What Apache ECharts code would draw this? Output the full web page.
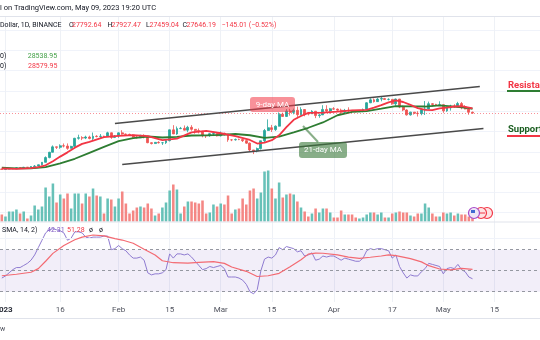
<!DOCTYPE html>
<html><head><meta charset="utf-8"><title>BTC chart</title>
<script src="https://cdn.jsdelivr.net/npm/echarts@6/dist/echarts.min.js"></script>
<style>html,body{margin:0;padding:0;background:#ffffff;overflow:hidden}#chart{width:540px;height:340px}</style>
</head><body><div id="chart"></div>
<script>
// ---------- DATA ----------
const startDay = Date.UTC(2022, 11, 31);
const dayCount = 148;
const categories = [];
for (let i = 0; i < dayCount; i++) categories.push(new Date(startDay + i * 86400000).toISOString().slice(0, 10));

const tickIdx  = [1, 16, 32, 46, 60, 74, 91, 107, 121, 135];
const tickText = ['2023', '16', 'Feb', '15', 'Mar', '15', 'Apr', '17', 'May', '15'];

const opens = [16607,16542,16616,16672,16675,16850,16831,16951,16945,17091,
17196,17446,17934,18869,19909,20977,20881,21185,21134,20677,
21071,22667,22783,22707,22917,22633,23060,23009,23074,23027,
23743,22827,23125,23732,23488,23431,23326,22932,22762,23240,
22963,21796,21625,21862,21783,21790,22199,24324,23517,24569,
24631,24271,24827,24436,24188,23947,23198,23175,23561,23600,
23147,23646,23475,22362,22354,22435,22409,22197,21705,20363,
20187,20633,22163,24197,24746,24375,25052,27423,26965,28038,
27767,28175,27307,28333,27493,27480,27994,27139,27268,28348,
28033,28478,28411,28199,27790,28168,28160,28033,27906,27948,
28333,29653,30235,29884,30390,30485,30319,30325,29445,30398,
28823,28245,27276,27817,27591,27525,28307,28422,29473,29340,
29248,29268,28068,28669,29026,28838,29506,28848,28430,27792.64];
const closes = [16542,16616,16672,16675,16850,16831,16951,16945,17091,17196,
17446,17934,18869,19909,20977,20881,21185,21134,20677,21071,
22667,22783,22707,22917,22633,23060,23009,23074,23027,23743,
22827,23125,23732,23488,23431,23326,22932,22762,23240,22963,
21796,21625,21862,21783,21790,22199,24324,23517,24569,24631,
24271,24827,24436,24188,23947,23198,23175,23561,23600,23147,
23646,23475,22362,22354,22435,22409,22197,21705,20363,20187,
20633,22163,24197,24746,24375,25052,27423,26965,28038,27767,
28175,27307,28333,27493,27480,27994,27139,27268,28348,28033,
28478,28411,28199,27790,28168,28160,28033,27906,27948,28333,
29653,30235,29884,30390,30485,30319,30325,29445,30398,28823,
28245,27276,27817,27591,27525,28307,28422,29473,29340,29248,
29268,28068,28669,29026,28838,29506,28848,28430,27792.64,27646.19];
const lows = [16470,16499,16548,16600,16650,16750,16670,16900,16910,17080,
17150,17320,17900,18720,19880,20550,20600,20860,20400,20660,
20880,22400,22300,22500,22460,22320,22850,22530,22880,22980,
22550,22710,22760,23360,23200,23260,22750,22630,22740,22650,
21690,21450,21600,21630,21350,21530,22050,23500,23340,24470,
24220,23840,24150,23570,23620,22860,22720,22950,23100,23020,
23030,23200,21970,22100,22200,22300,21930,21580,20050,19550,
19900,20450,21920,24130,23900,24120,25000,26900,26860,27130,
27380,26600,27150,27000,27170,27450,26630,26700,27250,27700,
27550,28250,27870,27250,27670,27820,27720,27780,27850,27800,
28170,29600,29700,29850,29950,30230,30120,29270,29100,28600,
28000,27130,27130,27340,26950,27200,27250,28380,28900,29050,
29150,27680,27870,28110,28680,28800,28380,28370,27300,27459.04];
const highs = [16644,16630,16760,16775,17000,16880,17040,16990,17180,17400,
17490,17990,19100,19990,21260,21030,21470,21640,21650,21190,
22750,23370,23080,23170,23180,23800,23280,23500,23160,23950,
23800,23310,23810,24250,23590,23580,23440,23160,23350,23450,
23010,21900,21900,22090,21890,22320,24380,25250,24990,24900,
25190,25120,25250,24470,24600,24140,23220,23690,23880,23600,
24000,23780,23480,22410,22610,22600,22550,22270,21830,20370,
20840,22190,24500,26390,25300,25200,27760,27720,28430,28480,
28520,28900,28780,28400,27800,28200,28040,27500,29180,29170,
28650,28800,28530,28500,28450,28770,28200,28100,28170,28530,
29770,30550,30500,30620,31000,30620,30550,30320,30480,30410,
29100,28370,27880,27820,28000,28400,30000,29890,29600,29450,
29950,29330,28880,29270,29380,29840,29820,29180,28450,27927.47];
const volumes = [70000,50000,100000,100000,120000,80000,100000,30000,60000,160000,
120000,150000,340000,250000,380000,190000,270000,230000,280000,130000,
280000,280000,180000,280000,250000,330000,260000,250000,80000,230000,
220000,150000,230000,300000,180000,80000,110000,140000,150000,140000,
180000,130000,60000,80000,140000,190000,310000,370000,320000,80000,
150000,200000,200000,190000,180000,210000,80000,90000,170000,150000,
180000,170000,260000,80000,120000,130000,230000,170000,310000,330000,
230000,290000,500000,510000,330000,230000,390000,240000,270000,280000,
270000,200000,140000,100000,50000,80000,130000,90000,130000,130000,
90000,40000,40000,110000,70000,70000,70000,40000,30000,40000,
70000,90000,90000,70000,90000,40000,40000,80000,90000,100000,
90000,90000,60000,50000,80000,80000,180000,140000,80000,50000,
50000,90000,80000,90000,60000,80000,70000,70000,50000,40000];

const ma9Days = [0,4,8,10,12,14,16,18,20,22,24,28,32,36,40,44,48,52,56,60,64,68,70,72,74,76,78,80,82,84,88,92,96,100,102,104,106,108,110,112,114,116,118,120,122,124,126,128,129];
const ma9Vals = [16711,16649,16797,16962,17346,18146,19054,19890,20819,21565,21975,22875,23137,23292,23074,22304,22605,23839,24138,23655,23084,22327,21627,21810,22285,23238,24844,26304,27048,27666,27728,27929,28182,28245,28704,29207,29729,30125,29812,29236,28604,28267,28222,28555,28702,28928,28979,28716,28536];
const ma21Days = [0,4,8,12,16,20,24,28,32,36,40,44,48,52,56,60,64,68,72,76,80,84,88,92,96,100,104,108,112,116,120,124,128,129];
const ma21Vals = [16893,16747,16762,16975,17717,18625,19793,20964,22096,22693,23012,22820,22955,23214,23239,23337,23506,23262,22732,23010,23841,24736,25784,27202,27859,28032,28494,28998,28945,28921,29165,28900,28615,28484];

const upperDays = [31, 131];
const upperVals = [25580, 32855];
const lowerDays = [33, 132];
const lowerVals = [17505, 24603];

const rsiVals = [43,45,48,51,53,53,55,57,60,65,
72,79,86,89,90,89,88,86,79,81,
87,87,86,82,81,82,82,82,83,83,
70,71,74,71,69,65,62,62,63,60,
48,46,47,47,48,51,66,62,66,66,
65,66,63,59,55,51,52,54,53,54,
55,52,44,44,44,43,41,37,30,28,
32,50,61,63,62,65,72,70,73,72,
71,68,69,64,65,67,60,61,64,63,
64,64,62,60,62,61,60,59,59,62,
69,71,70,71,71,70,69,62,65,54,
48,43,46,45,45,49,52,57,56,55,
54,47,52,53,52,56,51,49,44,42.31];
const rsiSmaDays = [0,4,8,10,12,14,17,20,22,25,28,31,33,36,39,42,44,47,51,54,58,61,63,67,70,73,76,79,82,84,86,88,92,95,98,101,104,106,108,112,115,117,120,123,126,129];
const rsiSmaVals = [45.2,46.6,48.5,52,59,66.5,74,79.5,82,84,83.2,80.6,79.2,76.1,70.5,65,59.5,57.6,57.3,58,58.6,57,53.5,49.4,44.5,45.2,47.5,53.8,60.5,65.8,66.8,66.6,65,63,61.8,62.8,64,65,64.3,61.5,58.4,54.8,51.6,50.7,52.3,51.28];

// ---------- HELPERS ----------
function sparse(days, vals) {
  const a = new Array(dayCount).fill(null);
  days.forEach((d, k) => { a[d] = vals[k]; });
  return a;
}
const UP = '#26a69a', DOWN = '#ef5350';
const VOL_UP = '#67c1b8', VOL_DOWN = '#f48784';
const FONT = 'Roboto';

const candleData = opens.map((o, i) => [o, closes[i], lows[i], highs[i]]);

function txt(x, y, text, fill, size, weight, align) {
  return { type: 'text', x: x, y: y, z: 100,
    style: { text: text, fill: fill, font: (weight || 'normal') + ' ' + size + 'px ' + FONT,
             verticalAlign: 'middle', align: align || 'left' } };
}
function hline(x1, x2, y, stroke, w) {
  return { type: 'line', z: 100, shape: { x1: x1, y1: y, x2: x2, y2: y }, style: { stroke: stroke, lineWidth: w } };
}

const chart = echarts.init(document.getElementById('chart'), null, { renderer: 'canvas' });

const option = {
  animation: false,
  backgroundColor: '#ffffff',
  grid: [
    { left: 0, right: 0, top: 16, height: 196.72, outerBoundsMode: 'none', containLabel: false },
    { left: 0, right: 0, top: 161.5, height: 60, outerBoundsMode: 'none', containLabel: false },
    { left: 0, right: 0, top: 218.2, height: 105, outerBoundsMode: 'none', containLabel: false },
    { left: 0, right: 0, top: 16, height: 286, outerBoundsMode: 'none', containLabel: false }
  ],
  xAxis: [
    { type: 'category', gridIndex: 0, data: categories, boundaryGap: true, show: false },
    { type: 'category', gridIndex: 1, data: categories, boundaryGap: true, show: false },
    { type: 'category', gridIndex: 2, data: categories, boundaryGap: true, show: false },
    { type: 'category', gridIndex: 3, data: categories, boundaryGap: true,
      axisLine: { show: false },
      axisTick: { show: false, alignWithLabel: true },
      splitLine: { show: true, alignWithLabel: true, interval: (i) => tickIdx.includes(i),
                   lineStyle: { color: '#eef1f6', width: 1 } },
      axisLabel: { show: true, margin: 4, color: '#50535e', fontSize: 8, fontFamily: FONT,
        interval: (i) => tickIdx.includes(i),
        formatter: (v, i) => {
          const k = tickIdx.indexOf(i);
          if (k < 0) return '';
          return k === 0 ? '{y|' + tickText[k] + '}' : tickText[k];
        },
        rich: { y: { fontWeight: 'bold', fontSize: 8, color: '#2a2e39', fontFamily: FONT, padding: [0, 4, 0, 0] } } } }
  ],
  yAxis: [
    { type: 'value', gridIndex: 0, min: 8000, max: 46754.4, interval: 4000, position: 'right',
      axisLine: { show: false }, axisTick: { show: false }, axisLabel: { show: false },
      splitLine: { show: true, lineStyle: { color: '#f0f3fa', width: 1 } } },
    { type: 'value', gridIndex: 1, min: 0, max: 600000, show: false, splitLine: { show: false } },
    { type: 'value', gridIndex: 2, min: 0, max: 100, show: false, splitLine: { show: false } },
    { type: 'value', gridIndex: 3, min: 0, max: 1, show: false, splitLine: { show: false } }
  ],
  series: [
    { name: 'Volume', type: 'bar', xAxisIndex: 1, yAxisIndex: 1, data: volumes, barWidth: '70%', z: 1,
      itemStyle: { color: (p) => closes[p.dataIndex] >= opens[p.dataIndex] ? VOL_UP : VOL_DOWN } },
    { name: 'BTC', type: 'candlestick', xAxisIndex: 0, yAxisIndex: 0, data: candleData, barWidth: 2.4, z: 3,
      itemStyle: { color: UP, color0: DOWN, borderColor: UP, borderColor0: DOWN, borderWidth: 0.8 },
      markLine: { silent: true, symbol: ['none', 'none'], label: { show: false },
        lineStyle: { color: 'rgba(242,54,69,0.55)', type: [1, 2], width: 1 },
        data: [{ yAxis: closes[closes.length - 1] }] } },
    { name: 'MA21', type: 'line', xAxisIndex: 0, yAxisIndex: 0, data: sparse(ma21Days, ma21Vals), connectNulls: true,
      showSymbol: false, symbol: 'none', z: 4, lineStyle: { color: '#2e7d32', width: 1.8 } },
    { name: 'MA9', type: 'line', xAxisIndex: 0, yAxisIndex: 0, data: sparse(ma9Days, ma9Vals), connectNulls: true,
      showSymbol: false, symbol: 'none', z: 5, lineStyle: { color: '#f23645', width: 1.8 } },
    { name: 'Upper', type: 'line', xAxisIndex: 0, yAxisIndex: 0, data: sparse(upperDays, upperVals), connectNulls: true,
      symbol: 'none', z: 6, lineStyle: { color: '#4a4a4a', width: 1.6 } },
    { name: 'Lower', type: 'line', xAxisIndex: 0, yAxisIndex: 0, data: sparse(lowerDays, lowerVals), connectNulls: true,
      symbol: 'none', z: 6, lineStyle: { color: '#4a4a4a', width: 1.6 } },
    { name: 'RSI', type: 'line', xAxisIndex: 2, yAxisIndex: 2, data: rsiVals, symbol: 'none', z: 4,
      lineStyle: { color: '#8f7bd1', width: 1 },
      markArea: { silent: true, itemStyle: { color: 'rgba(126,87,194,0.1)' }, data: [[{ yAxis: 70 }, { yAxis: 30 }]] },
      markLine: { silent: true, symbol: ['none', 'none'], label: { show: false },
        lineStyle: { color: '#9598a1', type: [3, 3], width: 1 },
        data: [{ yAxis: 70 }, { yAxis: 50 }, { yAxis: 30 },
               { yAxis: 81, lineStyle: { color: '#f0f3fa', type: 'solid' } }] } },
    { name: 'RSI SMA', type: 'line', xAxisIndex: 2, yAxisIndex: 2, data: sparse(rsiSmaDays, rsiSmaVals), connectNulls: true,
      symbol: 'none', z: 5, lineStyle: { color: '#f36a72', width: 1.2 } }
  ],
  graphic: [
    hline(0, 540, 16.5, '#e0e3eb', 1),
    hline(0, 540, 222, '#e0e3eb', 1),
    hline(0, 540, 318.5, '#e0e3eb', 1),
    txt(0, 8, 'l on TradingView.com, May 09, 2023 19:20 UTC', '#131722', 7.5),
    txt(0, 25, 'Dollar, 1D, BINANCE', '#131722', 7),
    txt(69, 25, 'O', '#131722', 7), txt(72, 25, '27792.64', '#f23645', 7),
    txt(107.5, 25, 'H', '#131722', 7), txt(111.5, 25, '27927.47', '#f23645', 7),
    txt(146, 25, 'L', '#131722', 7), txt(149.5, 25, '27459.04', '#f23645', 7),
    txt(182.5, 25, 'C', '#131722', 7), txt(186.5, 25, '27646.19', '#f23645', 7),
    txt(221.5, 25, '\u2212145.01 (\u22120.52%)', '#f23645', 7),
    txt(0, 56.7, '0)', '#131722', 7), txt(27.7, 56.7, '28538.95', '#43a047', 7),
    txt(0, 66.7, '0)', '#131722', 7), txt(28, 66.7, '28579.95', '#f23645', 7),
    txt(508, 85.5, 'Resistance', '#f23645', 9.5, 'bold'),
    hline(507, 540, 91, '#2e7d32', 2),
    txt(508, 130, 'Support', '#1b5e20', 9.5, 'bold'),
    hline(507, 540, 136, '#f23645', 2),
    { type: 'rect', z: 100, shape: { x: 250, y: 97, width: 45, height: 15, r: 3 }, style: { fill: 'rgba(242,54,69,0.55)' } },
    txt(272.5, 104.5, '9-day MA', '#ffffff', 8, 'normal', 'center'),
    { type: 'line', z: 99, shape: { x1: 303, y1: 126, x2: 318, y2: 142 }, style: { stroke: 'rgba(56,120,56,0.6)', lineWidth: 2 } },
    { type: 'rect', z: 100, shape: { x: 299, y: 142, width: 48, height: 16, r: 3 }, style: { fill: 'rgba(56,120,56,0.6)' } },
    txt(323, 150, '21-day MA', '#ffffff', 8, 'normal', 'center'),
    { type: 'circle', z: 100, shape: { cx: 487, cy: 213, r: 5.5 }, style: { fill: '#fde3e3', stroke: '#f23645', lineWidth: 1.2 } },
    { type: 'circle', z: 100, shape: { cx: 481, cy: 213, r: 5.5 }, style: { fill: '#fde3e3', stroke: '#f23645', lineWidth: 1.2 } },
    hline(477, 485, 213, '#f23645', 1),
    { type: 'circle', z: 101, shape: { cx: 474, cy: 213, r: 5.5 }, style: { fill: '#ede7f6', stroke: '#a64ac9', lineWidth: 1.2 } },
    { type: 'rect', z: 102, shape: { x: 471, y: 210, width: 4, height: 3 }, style: { fill: '#3f6bd1' } },
    hline(471, 477, 214.5, '#f23645', 1),
    txt(2, 230.5, 'SMA, 14, 2)', '#131722', 7),
    txt(47, 230.5, '42.31', '#7e57c2', 7),
    txt(67, 230.5, '51.28', '#f23645', 7),
    txt(89, 230.5, '\u00f8', '#131722', 7),
    txt(99, 230.5, '\u00f8', '#131722', 7),
    txt(0, 329, 'w', '#50535e', 7)
  ]
};
chart.setOption(option);
</script></body></html>
